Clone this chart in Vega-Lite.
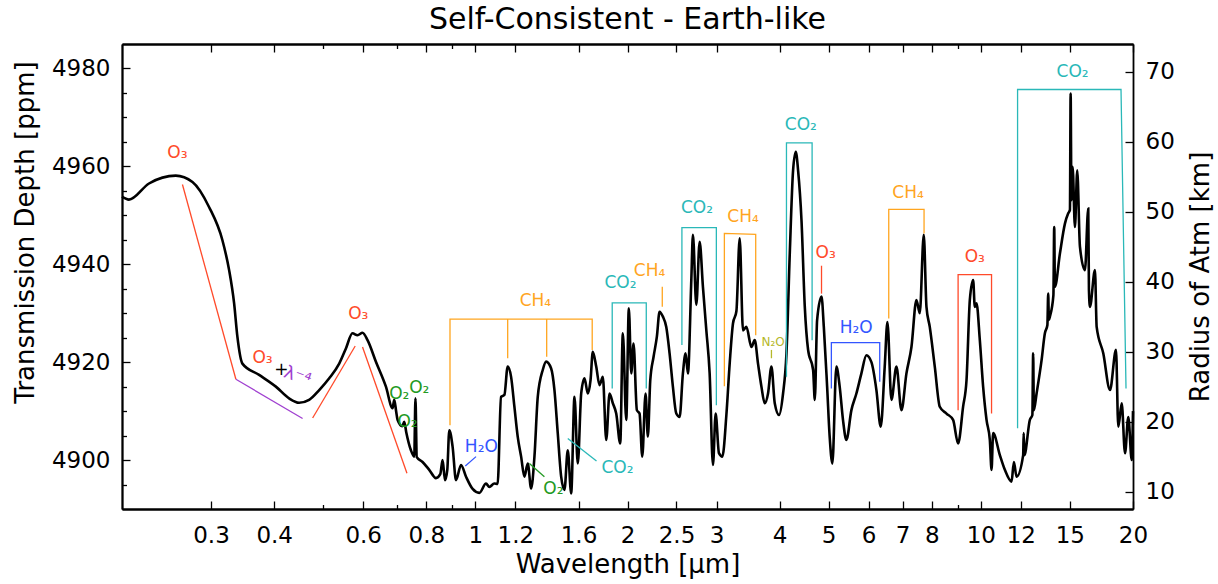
{
  "$schema": "https://vega.github.io/schema/vega-lite/v6.json",
  "width": 1011,
  "height": 465,
  "autosize": "none",
  "padding": {"left": 122, "top": 44, "right": 85, "bottom": 75},
  "background": "white",
  "title": {"text": "Self-Consistent - Earth-like", "fontSize": 30, "fontWeight": "normal", "font": "DejaVu Sans", "color": "black", "offset": -16, "baseline": "alphabetic", "anchor": "middle", "frame": "group"},
  "config": {
    "font": "DejaVu Sans",
    "view": {"stroke": null},
    "axis": {"grid": false, "domainColor": "black", "domainWidth": 1.8, "tickColor": "black", "tickWidth": 1.3, "labelFont": "DejaVu Sans", "labelFontSize": 23, "labelColor": "black", "titleFont": "DejaVu Sans", "titleFontSize": 26, "titleFontWeight": "normal", "titleColor": "black", "labelOverlap": false, "labelFlush": false, "labelBound": false}
  },
  "datasets": {
    "spec": [
      {"wl":0.2,"ppm":4953.8},{"wl":0.2064,"ppm":4953.2},{"wl":0.2262,"ppm":4956.5},{"wl":0.2555,"ppm":4958.1},{"wl":0.2757,"ppm":4956.8},{"wl":0.2973,"ppm":4951.7},{"wl":0.316,"ppm":4944.9},{"wl":0.3258,"ppm":4938.8},{"wl":0.3333,"ppm":4932.0},{"wl":0.3383,"ppm":4925.2},{"wl":0.3461,"ppm":4919.7},{"wl":0.3735,"ppm":4917.4},{"wl":0.4031,"ppm":4915.0},{"wl":0.4281,"ppm":4912.6},{"wl":0.4481,"ppm":4911.7},{"wl":0.469,"ppm":4912.3},{"wl":0.4911,"ppm":4914.3},{"wl":0.514,"ppm":4916.7},{"wl":0.5379,"ppm":4919.7},{"wl":0.5546,"ppm":4922.8},{"wl":0.5715,"ppm":4925.9},{"wl":0.5847,"ppm":4925.5},{"wl":0.5982,"ppm":4926.0},{"wl":0.612,"ppm":4924.5},{"wl":0.6358,"ppm":4920.1},{"wl":0.6655,"ppm":4915.0},{"wl":0.6859,"ppm":4910.6},{"wl":0.6912,"ppm":4912.3},{"wl":0.6975,"ppm":4909.8},{"wl":0.7017,"ppm":4908.2},{"wl":0.7168,"ppm":4906.9},{"wl":0.7234,"ppm":4907.8},{"wl":0.73,"ppm":4905.7},{"wl":0.7458,"ppm":4902.0},{"wl":0.7571,"ppm":4900.7},{"wl":0.7613,"ppm":4912.6},{"wl":0.7658,"ppm":4900.6},{"wl":0.7863,"ppm":4899.6},{"wl":0.8106,"ppm":4898.0},{"wl":0.8359,"ppm":4896.3},{"wl":0.8524,"ppm":4897.1},{"wl":0.8614,"ppm":4900.0},{"wl":0.871,"ppm":4895.9},{"wl":0.8801,"ppm":4898.0},{"wl":0.8882,"ppm":4906.1},{"wl":0.9017,"ppm":4902.7},{"wl":0.9158,"ppm":4895.9},{"wl":0.9369,"ppm":4899.0},{"wl":0.9585,"ppm":4896.6},{"wl":0.9878,"ppm":4894.1},{"wl":1.0184,"ppm":4893.3},{"wl":1.05,"ppm":4895.2},{"wl":1.0659,"ppm":4894.5},{"wl":1.0904,"ppm":4895.2},{"wl":1.1069,"ppm":4895.1},{"wl":1.1243,"ppm":4912.9},{"wl":1.1415,"ppm":4913.3},{"wl":1.1588,"ppm":4919.1},{"wl":1.1769,"ppm":4917.0},{"wl":1.1948,"ppm":4910.9},{"wl":1.2129,"ppm":4904.8},{"wl":1.2319,"ppm":4900.7},{"wl":1.2506,"ppm":4896.6},{"wl":1.2696,"ppm":4899.3},{"wl":1.2894,"ppm":4894.2},{"wl":1.309,"ppm":4900.7},{"wl":1.3289,"ppm":4912.9},{"wl":1.3595,"ppm":4918.4},{"wl":1.3804,"ppm":4920.1},{"wl":1.4125,"ppm":4918.7},{"wl":1.4339,"ppm":4914.3},{"wl":1.4556,"ppm":4905.5},{"wl":1.4784,"ppm":4896.6},{"wl":1.5008,"ppm":4893.9},{"wl":1.5236,"ppm":4902.0},{"wl":1.5474,"ppm":4893.2},{"wl":1.5709,"ppm":4912.9},{"wl":1.5948,"ppm":4899.3},{"wl":1.6197,"ppm":4913.6},{"wl":1.6443,"ppm":4916.7},{"wl":1.6692,"ppm":4913.6},{"wl":1.6899,"ppm":4916.3},{"wl":1.7077,"ppm":4922.1},{"wl":1.7344,"ppm":4919.1},{"wl":1.7607,"ppm":4915.3},{"wl":1.7874,"ppm":4917.0},{"wl":1.8154,"ppm":4904.1},{"wl":1.8429,"ppm":4913.6},{"wl":1.8708,"ppm":4911.6},{"wl":1.8999,"ppm":4909.5},{"wl":1.9349,"ppm":4903.4},{"wl":1.958,"ppm":4925.9},{"wl":1.9886,"ppm":4908.2},{"wl":2.0123,"ppm":4931.0},{"wl":2.0345,"ppm":4917.7},{"wl":2.0559,"ppm":4923.8},{"wl":2.0871,"ppm":4910.2},{"wl":2.1129,"ppm":4909.5},{"wl":2.1391,"ppm":4900.7},{"wl":2.1715,"ppm":4913.6},{"wl":2.1944,"ppm":4904.8},{"wl":2.2186,"ppm":4916.3},{"wl":2.2522,"ppm":4921.1},{"wl":2.2863,"ppm":4925.2},{"wl":2.3146,"ppm":4930.3},{"wl":2.3497,"ppm":4929.3},{"wl":2.3864,"ppm":4927.2},{"wl":2.4226,"ppm":4921.8},{"wl":2.4594,"ppm":4915.0},{"wl":2.4978,"ppm":4909.5},{"wl":2.5357,"ppm":4908.8},{"wl":2.5742,"ppm":4917.7},{"wl":2.606,"ppm":4921.8},{"wl":2.6335,"ppm":4917.7},{"wl":2.6747,"ppm":4936.8},{"wl":2.6943,"ppm":4946.0},{"wl":2.7364,"ppm":4931.7},{"wl":2.7779,"ppm":4944.6},{"wl":2.82,"ppm":4935.4},{"wl":2.8641,"ppm":4926.5},{"wl":2.9076,"ppm":4917.7},{"wl":2.9517,"ppm":4899.0},{"wl":2.9883,"ppm":4909.5},{"wl":3.0336,"ppm":4901.4},{"wl":3.081,"ppm":4900.7},{"wl":3.1378,"ppm":4909.2},{"wl":3.1854,"ppm":4919.7},{"wl":3.2336,"ppm":4927.9},{"wl":3.2843,"ppm":4930.4},{"wl":3.334,"ppm":4945.3},{"wl":3.3847,"ppm":4926.5},{"wl":3.4376,"ppm":4927.2},{"wl":3.5168,"ppm":4923.1},{"wl":3.5701,"ppm":4924.5},{"wl":3.6243,"ppm":4919.7},{"wl":3.681,"ppm":4915.0},{"wl":3.7368,"ppm":4911.6},{"wl":3.7935,"ppm":4913.6},{"wl":3.8528,"ppm":4919.1},{"wl":3.9113,"ppm":4911.6},{"wl":3.9887,"ppm":4909.2},{"wl":4.0622,"ppm":4913.6},{"wl":4.1258,"ppm":4921.8},{"wl":4.1884,"ppm":4942.2},{"wl":4.252,"ppm":4959.2},{"wl":4.3046,"ppm":4963.0},{"wl":4.35,"ppm":4959.2},{"wl":4.418,"ppm":4949.0},{"wl":4.485,"ppm":4931.3},{"wl":4.553,"ppm":4922.5},{"wl":4.658,"ppm":4918.4},{"wl":4.6943,"ppm":4912.3},{"wl":4.7438,"ppm":4928.6},{"wl":4.8399,"ppm":4933.4},{"wl":4.891,"ppm":4927.2},{"wl":4.9652,"ppm":4915.0},{"wl":5.023,"ppm":4904.8},{"wl":5.0852,"ppm":4899.3},{"wl":5.1789,"ppm":4919.1},{"wl":5.2575,"ppm":4915.0},{"wl":5.3373,"ppm":4908.2},{"wl":5.4208,"ppm":4904.1},{"wl":5.5457,"ppm":4910.2},{"wl":5.6735,"ppm":4913.6},{"wl":5.8043,"ppm":4917.7},{"wl":5.9381,"ppm":4921.4},{"wl":6.075,"ppm":4920.0},{"wl":6.215,"ppm":4914.3},{"wl":6.3381,"ppm":4906.8},{"wl":6.4547,"ppm":4919.1},{"wl":6.5348,"ppm":4928.2},{"wl":6.655,"ppm":4912.3},{"wl":6.8085,"ppm":4919.1},{"wl":6.9654,"ppm":4910.2},{"wl":7.126,"ppm":4917.7},{"wl":7.2903,"ppm":4923.1},{"wl":7.4583,"ppm":4932.7},{"wl":7.5716,"ppm":4930.0},{"wl":7.7109,"ppm":4946.0},{"wl":7.8064,"ppm":4931.3},{"wl":7.9248,"ppm":4927.2},{"wl":8.1077,"ppm":4919.1},{"wl":8.2946,"ppm":4910.9},{"wl":8.5521,"ppm":4909.5},{"wl":8.8134,"ppm":4908.2},{"wl":9.0166,"ppm":4903.4},{"wl":9.2245,"ppm":4910.9},{"wl":9.3686,"ppm":4916.3},{"wl":9.5108,"ppm":4932.7},{"wl":9.655,"ppm":4936.8},{"wl":9.7302,"ppm":4931.3},{"wl":9.8059,"ppm":4932.0},{"wl":9.9545,"ppm":4924.5},{"wl":10.105,"ppm":4915.0},{"wl":10.263,"ppm":4908.2},{"wl":10.419,"ppm":4904.1},{"wl":10.5,"ppm":4898.0},{"wl":10.577,"ppm":4905.5},{"wl":10.905,"ppm":4901.0},{"wl":11.156,"ppm":4898.0},{"wl":11.502,"ppm":4895.6},{"wl":11.624,"ppm":4899.6},{"wl":11.768,"ppm":4896.6},{"wl":12.127,"ppm":4901.0},{"wl":12.155,"ppm":4905.5},{"wl":12.194,"ppm":4901.0},{"wl":12.503,"ppm":4908.2},{"wl":12.646,"ppm":4909.2},{"wl":12.692,"ppm":4921.8},{"wl":12.733,"ppm":4910.2},{"wl":12.891,"ppm":4913.6},{"wl":13.188,"ppm":4920.4},{"wl":13.388,"ppm":4925.9},{"wl":13.542,"ppm":4927.6},{"wl":13.591,"ppm":4934.0},{"wl":13.635,"ppm":4928.6},{"wl":13.697,"ppm":4929.3},{"wl":13.918,"ppm":4933.7},{"wl":13.969,"ppm":4947.6},{"wl":14.014,"ppm":4935.4},{"wl":14.337,"ppm":4942.2},{"wl":14.668,"ppm":4948.3},{"wl":14.89,"ppm":4950.4},{"wl":15.006,"ppm":4951.1},{"wl":15.054,"ppm":4974.9},{"wl":15.109,"ppm":4953.1},{"wl":15.192,"ppm":4959.9},{"wl":15.352,"ppm":4947.6},{"wl":15.514,"ppm":4959.2},{"wl":15.706,"ppm":4943.6},{"wl":16.068,"ppm":4938.8},{"wl":16.312,"ppm":4951.4},{"wl":16.364,"ppm":4934.7},{"wl":16.439,"ppm":4931.3},{"wl":16.818,"ppm":4938.8},{"wl":16.949,"ppm":4927.2},{"wl":17.467,"ppm":4921.8},{"wl":18.009,"ppm":4914.3},{"wl":18.509,"ppm":4922.5},{"wl":18.704,"ppm":4906.8},{"wl":18.997,"ppm":4911.6},{"wl":19.285,"ppm":4901.4},{"wl":19.577,"ppm":4908.8},{"wl":19.884,"ppm":4900.0},{"wl":20.0,"ppm":4910.0}
    ],
    "segs": [
      {"g":1,"sp":"O3","o":1,"wl":0.2634,"ppm":4956.3},{"g":1,"sp":"O3","o":2,"wl":0.336,"ppm":4916.5},
      {"g":2,"sp":"ray","o":1,"wl":0.336,"ppm":4916.5},{"g":2,"sp":"ray","o":2,"wl":0.4553,"ppm":4908.5},
      {"g":3,"sp":"O3","o":1,"wl":0.4766,"ppm":4908.6},{"g":3,"sp":"O3","o":2,"wl":0.5786,"ppm":4923.3},
      {"g":4,"sp":"O3","o":1,"wl":0.5982,"ppm":4923.1},{"g":4,"sp":"O3","o":2,"wl":0.7324,"ppm":4897.3},
      {"g":5,"sp":"H2O","o":1,"wl":0.9554,"ppm":4898.8},{"g":5,"sp":"H2O","o":2,"wl":1.0032,"ppm":4900.7},
      {"g":6,"sp":"O2","o":1,"wl":1.2794,"ppm":4899.3},{"g":6,"sp":"O2","o":2,"wl":1.3697,"ppm":4896.6},
      {"g":7,"sp":"CO2","o":1,"wl":1.5236,"ppm":4904.4},{"g":7,"sp":"CO2","o":2,"wl":1.7367,"ppm":4899.8},
      {"g":8,"sp":"CH4","o":1,"wl":0.891,"ppm":4907.1},{"g":8,"sp":"CH4","o":2,"wl":0.891,"ppm":4928.8},{"g":8,"sp":"CH4","o":3,"wl":1.703,"ppm":4928.8},{"g":8,"sp":"CH4","o":4,"wl":1.703,"ppm":4922.5},
      {"g":9,"sp":"CH4","o":1,"wl":1.1588,"ppm":4928.8},{"g":9,"sp":"CH4","o":2,"wl":1.1588,"ppm":4920.8},
      {"g":10,"sp":"CH4","o":1,"wl":1.3841,"ppm":4928.8},{"g":10,"sp":"CH4","o":2,"wl":1.3841,"ppm":4921.1},
      {"g":11,"sp":"CO2","o":1,"wl":1.8655,"ppm":4914.6},{"g":11,"sp":"CO2","o":2,"wl":1.8655,"ppm":4932.1},{"g":11,"sp":"CO2","o":3,"wl":2.1785,"ppm":4932.1},{"g":11,"sp":"CO2","o":4,"wl":2.1785,"ppm":4914.6},
      {"g":12,"sp":"CH4","o":1,"wl":2.3433,"ppm":4935.4},{"g":12,"sp":"CH4","o":2,"wl":2.3433,"ppm":4931.3},
      {"g":13,"sp":"CO2","o":1,"wl":2.5625,"ppm":4923.5},{"g":13,"sp":"CO2","o":2,"wl":2.5625,"ppm":4947.5},{"g":13,"sp":"CO2","o":3,"wl":2.9978,"ppm":4947.5},{"g":13,"sp":"CO2","o":4,"wl":2.9978,"ppm":4911.2},
      {"g":14,"sp":"CH4","o":1,"wl":3.1093,"ppm":4915.1},{"g":14,"sp":"CH4","o":2,"wl":3.1093,"ppm":4946.3},{"g":14,"sp":"CH4","o":3,"wl":3.5864,"ppm":4946.1},{"g":14,"sp":"CH4","o":4,"wl":3.5864,"ppm":4925.5},
      {"g":15,"sp":"N2O","o":1,"wl":3.8528,"ppm":4922.5},{"g":15,"sp":"N2O","o":2,"wl":3.8528,"ppm":4920.8},
      {"g":16,"sp":"CO2","o":1,"wl":4.1258,"ppm":4917.0},{"g":16,"sp":"CO2","o":2,"wl":4.1258,"ppm":4964.8},{"g":16,"sp":"CO2","o":3,"wl":4.6368,"ppm":4964.8},{"g":16,"sp":"CO2","o":4,"wl":4.6368,"ppm":4924.5},
      {"g":17,"sp":"O3","o":1,"wl":4.8399,"ppm":4939.7},{"g":17,"sp":"O3","o":2,"wl":4.8399,"ppm":4934.0},
      {"g":18,"sp":"H2O","o":1,"wl":5.062,"ppm":4914.6},{"g":18,"sp":"H2O","o":2,"wl":5.062,"ppm":4924.0},{"g":18,"sp":"H2O","o":3,"wl":6.3096,"ppm":4924.0},{"g":18,"sp":"H2O","o":4,"wl":6.3096,"ppm":4916.0},
      {"g":19,"sp":"CH4","o":1,"wl":6.5742,"ppm":4928.9},{"g":19,"sp":"CH4","o":2,"wl":6.5742,"ppm":4951.2},{"g":19,"sp":"CH4","o":3,"wl":7.7214,"ppm":4951.2},{"g":19,"sp":"CH4","o":4,"wl":7.7214,"ppm":4946.3},
      {"g":20,"sp":"O3","o":1,"wl":9.0166,"ppm":4910.2},{"g":20,"sp":"O3","o":2,"wl":9.0166,"ppm":4937.9},{"g":20,"sp":"O3","o":3,"wl":10.5,"ppm":4937.9},{"g":20,"sp":"O3","o":4,"wl":10.5,"ppm":4909.5},
      {"g":21,"sp":"CO2","o":1,"wl":11.822,"ppm":4906.5},{"g":21,"sp":"CO2","o":2,"wl":11.822,"ppm":4975.7},{"g":21,"sp":"CO2","o":3,"wl":18.937,"ppm":4975.7},{"g":21,"sp":"CO2","o":4,"wl":19.373,"ppm":4914.6}
    ],
    "labels": [
      {"sp":"O3","t":"O₃","wl":0.2574,"ppm":4962.8},
      {"sp":"O3","t":"O₃","wl":0.3794,"ppm":4920.8},
      {"sp":"plus","t":"+","wl":0.4135,"ppm":4918.5},
      {"sp":"ray","t":"λ⁻⁴","wl":0.4444,"ppm":4917.0},
      {"sp":"O3","t":"O₃","wl":0.5866,"ppm":4929.8},
      {"sp":"O2","t":"O₂","wl":0.7072,"ppm":4913.5},
      {"sp":"O2","t":"O₂","wl":0.7748,"ppm":4914.8},
      {"sp":"O2","t":"O₂","wl":0.7344,"ppm":4907.8},
      {"sp":"CH4","t":"CH₄","wl":1.315,"ppm":4932.5},
      {"sp":"H2O","t":"H₂O","wl":1.0277,"ppm":4902.7},
      {"sp":"O2","t":"O₂","wl":1.4267,"ppm":4894.0},
      {"sp":"CO2","t":"CO₂","wl":1.9108,"ppm":4898.4},
      {"sp":"CO2","t":"CO₂","wl":1.9371,"ppm":4936.1},
      {"sp":"CH4","t":"CH₄","wl":2.2116,"ppm":4938.7},
      {"sp":"CO2","t":"CO₂","wl":2.7439,"ppm":4951.4},
      {"sp":"CH4","t":"CH₄","wl":3.3847,"ppm":4949.7},
      {"sp":"N2O","t":"N₂O","wl":3.8811,"ppm":4924.2},
      {"sp":"CO2","t":"CO₂","wl":4.4039,"ppm":4968.4},
      {"sp":"O3","t":"O₃","wl":4.933,"ppm":4942.2},
      {"sp":"H2O","t":"H₂O","wl":5.6684,"ppm":4926.9},
      {"sp":"CH4","t":"CH₄","wl":7.1782,"ppm":4954.6},
      {"sp":"O3","t":"O₃","wl":9.7302,"ppm":4941.5},
      {"sp":"CO2","t":"CO₂","wl":15.192,"ppm":4979.3}
    ],
    "km": [{"wl": 1, "km": 10}, {"wl": 1, "km": 70}]
  },
  "layer": [
    {
      "layer": [
        {
          "data": {"name": "spec"},
          "mark": {"type": "line", "color": "black", "strokeWidth": 2.6, "interpolate": "monotone"},
          "encoding": {
            "x": {"field": "wl", "type": "quantitative", "scale": {"type": "log", "domain": [0.2, 20], "nice": false},
                  "axis": {"orient": "bottom", "values": [0.3,0.4,0.6,0.8,1,1.2,1.6,2,2.5,3,4,5,6,7,8,10,12,15,20], "format": "~g", "tickSize": -8, "labelPadding": 23.6, "labelBaseline": "top", "title": "Wavelength [μm]", "titleBaseline": "alphabetic", "titleY": 63}},
            "y": {"field": "ppm", "type": "quantitative", "scale": {"domain": [4890, 4985], "nice": false, "zero": false},
                  "axis": {"orient": "left", "values": [4900,4920,4940,4960,4980], "format": "d", "tickSize": -8, "labelPadding": 20, "title": "Transmission Depth [ppm]", "titleAngle": -90, "titleBaseline": "alphabetic", "titleX": -89, "titleY": 188}}
          }
        },
        {
          "data": {"name": "segs"},
          "mark": {"type": "line", "strokeWidth": 1.3},
          "encoding": {
            "x": {"field": "wl", "type": "quantitative", "scale": {"type": "log", "domain": [0.2, 20], "nice": false},
                  "axis": {"orient": "bottom", "values": [0.5,0.7,0.9,9], "labels": false, "tickSize": -4.5, "title": null}},
            "y": {"field": "ppm", "type": "quantitative", "scale": {"domain": [4890, 4985], "nice": false, "zero": false},
                  "axis": {"orient": "left", "values": [4895,4905,4910,4915,4925,4930,4935,4945,4950,4955,4965,4970,4975], "labels": false, "tickSize": -4.5, "title": null}},
            "detail": {"field": "g", "type": "nominal"},
            "order": {"field": "o", "type": "quantitative"},
            "color": {"field": "sp", "type": "nominal", "legend": null,
                      "scale": {"domain": ["O3","CH4","CO2","H2O","O2","N2O","ray","plus"], "range": ["#ff4a2a","#ffa51f","#2ab8b8","#3355ff","#229922","#b5b82a","#a040d0","#000000"]}}
          }
        },
        {
          "data": {"name": "labels"},
          "transform": [{"filter": "datum.sp != 'N2O' && datum.sp != 'ray'"}],
          "mark": {"type": "text", "fontSize": 17, "font": "DejaVu Sans", "align": "center", "baseline": "middle"},
          "encoding": {
            "x": {"field": "wl", "type": "quantitative", "scale": {"type": "log", "domain": [0.2, 20], "nice": false},
                  "axis": {"orient": "top", "values": [0.3,0.4,0.6,0.8,1,1.2,1.6,2,2.5,3,4,5,6,7,8,10,12,15,20], "labels": false, "tickSize": -8, "title": null}},
            "y": {"field": "ppm", "type": "quantitative", "scale": {"domain": [4890, 4985], "nice": false, "zero": false}, "axis": null},
            "text": {"field": "t"},
            "color": {"field": "sp", "type": "nominal", "legend": null,
                      "scale": {"domain": ["O3","CH4","CO2","H2O","O2","N2O","ray","plus"], "range": ["#ff4a2a","#ffa51f","#2ab8b8","#3355ff","#229922","#b5b82a","#a040d0","#000000"]}}
          }
        },
        {
          "data": {"name": "labels"},
          "transform": [{"filter": "datum.sp == 'N2O'"}],
          "mark": {"type": "text", "fontSize": 12, "font": "DejaVu Sans", "align": "center", "baseline": "middle"},
          "encoding": {
            "x": {"field": "wl", "type": "quantitative", "scale": {"type": "log", "domain": [0.2, 20], "nice": false}, "axis": null},
            "y": {"field": "ppm", "type": "quantitative", "scale": {"domain": [4890, 4985], "nice": false, "zero": false}, "axis": null},
            "text": {"field": "t"},
            "color": {"field": "sp", "type": "nominal", "legend": null,
                      "scale": {"domain": ["O3","CH4","CO2","H2O","O2","N2O","ray","plus"], "range": ["#ff4a2a","#ffa51f","#2ab8b8","#3355ff","#229922","#b5b82a","#a040d0","#000000"]}}
          }
        },
        {
          "data": {"name": "labels"},
          "transform": [{"filter": "datum.sp == 'ray'"}],
          "mark": {"type": "text", "fontSize": 18, "font": "DejaVu Sans", "align": "center", "baseline": "middle", "angle": 20},
          "encoding": {
            "x": {"field": "wl", "type": "quantitative", "scale": {"type": "log", "domain": [0.2, 20], "nice": false}, "axis": null},
            "y": {"field": "ppm", "type": "quantitative", "scale": {"domain": [4890, 4985], "nice": false, "zero": false}, "axis": null},
            "text": {"field": "t"},
            "color": {"field": "sp", "type": "nominal", "legend": null,
                      "scale": {"domain": ["O3","CH4","CO2","H2O","O2","N2O","ray","plus"], "range": ["#ff4a2a","#ffa51f","#2ab8b8","#3355ff","#229922","#b5b82a","#a040d0","#000000"]}}
          }
        }
      ],
      "resolve": {"axis": {"x": "independent", "y": "independent"}}
    },
    {
      "data": {"name": "km"},
      "mark": {"type": "point", "opacity": 0},
      "encoding": {
        "x": {"field": "wl", "type": "quantitative", "scale": {"type": "log", "domain": [0.2, 20], "nice": false},
              "axis": {"orient": "top", "values": [0.5,0.7,0.9,9], "labels": false, "tickSize": -4.5, "title": null}},
        "y": {"field": "km", "type": "quantitative", "scale": {"domain": [7.53, 73.96], "nice": false, "zero": false},
              "axis": {"orient": "right", "values": [10,20,30,40,50,60,70], "tickSize": -8, "labelPadding": 20, "title": "Radius of Atm [km]", "titleAngle": -90, "titleBaseline": "alphabetic", "titleX": 75}}
      }
    }
  ],
  "resolve": {"scale": {"y": "independent"}, "axis": {"x": "independent", "y": "independent"}}
}
